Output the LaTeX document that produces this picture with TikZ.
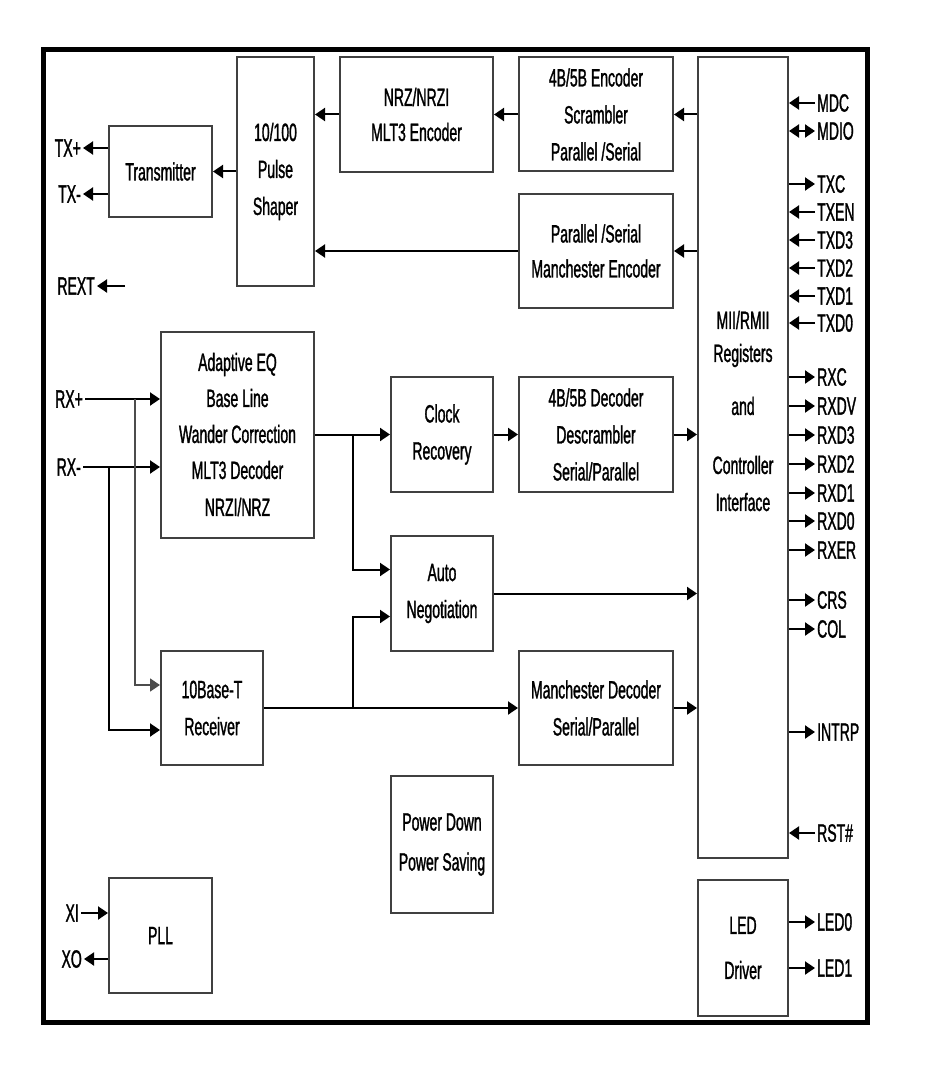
\documentclass[tikz,border=0pt]{standalone}
\usepackage{fontspec}
\setmainfont{Liberation Sans}[FakeStretch=0.56,FakeBold=1.2]
\usetikzlibrary{arrows.meta}

\begin{document}
\begin{tikzpicture}[
  x=1pt,
  y=-1pt,
  font=\fontsize{25}{37}\selectfont,
  box/.style={
    draw=black!75,
    line width=2pt,
    align=center,
    inner sep=0pt
  },
  sig/.style={
    inner sep=2pt
  },
  a/.style={
    -{Triangle[length=10pt,width=13pt]},
    line width=2pt
  },
  aa/.style={
    {Triangle[length=10pt,width=13pt]}-{Triangle[length=10pt,width=13pt]},
    line width=2pt
  },
  tap/.style={
    -{Triangle[length=10pt,width=13pt]},
    line width=1.6pt,
    draw=black!70
  }
  ]

  \useasboundingbox (0,0) rectangle (928,1086);
  \draw [line width=5pt] (43,50) rectangle (867,1022);

  % transmit side
  \node (pulse) [box,minimum width=77pt,minimum height=229pt] at (275.5,171.5) {10/100\\Pulse\\Shaper};
  \node (nrz) [box,minimum width=153pt,minimum height=115pt] at (416.5,114.5) {NRZ/NRZI\\[-2pt]MLT3 Encoder};
  \node (enc) [box,minimum width=154pt,minimum height=114pt] at (596,114.5) {4B/5B Encoder\\Scrambler\\Parallel /Serial};
  \node (menc) [box,minimum width=154pt,minimum height=114pt] at (596,251) {Parallel /Serial\\[-2pt]Manchester Encoder};
  \node (tx) [box,minimum width=103pt,minimum height=91pt] at (160.5,171.5) {Transmitter};

  % receive side
  \node (eq) [box,minimum width=153pt,minimum height=206pt] at (237.5,434.5) {Adaptive EQ\\[-1pt]Base Line\\[-1pt]Wander Correction\\[-1pt]MLT3 Decoder\\NRZI/NRZ};
  \node (clk) [box,minimum width=102pt,minimum height=115pt] at (442,434.5) {Clock\\Recovery};
  \node (dec) [box,minimum width=154pt,minimum height=115pt] at (596,434.5) {4B/5B Decoder\\Descrambler\\Serial/Parallel};
  \node (auto) [box,minimum width=102pt,minimum height=115pt] at (442,593.5) {Auto\\Negotiation};
  \node (rx10) [box,minimum width=102pt,minimum height=114pt] at (212,708) {10Base-T\\Receiver};
  \node (mdec) [box,minimum width=154pt,minimum height=114pt] at (596,708) {Manchester Decoder\\Serial/Parallel};
  \node (pwr) [box,minimum width=102pt,minimum height=137pt] at (442,844.5) {Power Down\\[3pt]Power Saving};
  \node (pll) [box,minimum width=103pt,minimum height=115pt] at (160.5,935.5) {PLL};

  % MII and LED
  \node (mii) [box,minimum width=90pt,minimum height=801pt] at (743,457.5) {};
  \node (mii-text) [align=center] at (743,411) {MII/RMII\\[-4pt]Registers\\[16pt]and\\[22pt]Controller\\Interface};
  \node (led) [box,minimum width=90pt,minimum height=136pt] at (743,948) {LED\\[8pt]Driver};

  % left pins
  \node (txp) [sig,anchor=east] at (83,148) {TX+};
  \node (txm) [sig,anchor=east] at (83,194) {TX-};
  \node (rext) [sig,anchor=east] at (97,286) {REXT};
  \coordinate (rext-in) at (125,286);
  \node (rxp) [sig,anchor=east] at (85,399) {RX+};
  \node (rxm) [sig,anchor=east] at (83,467) {RX-};
  \node (xi) [sig,anchor=east] at (81,913) {XI};
  \node (xo) [sig,anchor=east] at (84,959) {XO};

  % right pins
  \node (mdc) [sig,anchor=west] at (815,103) {MDC};
  \node (mdio) [sig,anchor=west] at (815,131) {MDIO};
  \node (txc) [sig,anchor=west] at (815,184) {TXC};
  \node (txen) [sig,anchor=west] at (815,212) {TXEN};
  \node (txd3) [sig,anchor=west] at (815,240) {TXD3};
  \node (txd2) [sig,anchor=west] at (815,268) {TXD2};
  \node (txd1) [sig,anchor=west] at (815,296) {TXD1};
  \node (txd0) [sig,anchor=west] at (815,323) {TXD0};
  \node (rxc) [sig,anchor=west] at (815,377) {RXC};
  \node (rxdv) [sig,anchor=west] at (815,406) {RXDV};
  \node (rxd3) [sig,anchor=west] at (815,435) {RXD3};
  \node (rxd2) [sig,anchor=west] at (815,464) {RXD2};
  \node (rxd1) [sig,anchor=west] at (815,493) {RXD1};
  \node (rxd0) [sig,anchor=west] at (815,521) {RXD0};
  \node (rxer) [sig,anchor=west] at (815,550) {RXER};
  \node (crs) [sig,anchor=west] at (815,600) {CRS};
  \node (col) [sig,anchor=west] at (815,629) {COL};
  \node (intrp) [sig,anchor=west] at (815,732) {INTRP};
  \node (rst) [sig,anchor=west] at (815,833) {RST\#};
  \node (led0) [sig,anchor=west] at (815,922) {LED0};
  \node (led1) [sig,anchor=west] at (815,968) {LED1};

  % transmit connectors
  \draw [a] (mii.west |- enc.east) -- (enc.east);
  \draw [a] (mii.west |- menc.east) -- (menc.east);
  \draw [a] (enc.west) -- (nrz.east |- enc.west);
  \draw [a] (nrz.west) -- (pulse.east |- nrz.west);
  \draw [a] (menc.west) -- (pulse.east |- menc.west);
  \draw [a] (pulse.west |- tx.east) -- (tx.east);
  \draw [a] (tx.west |- txp.east) -- (txp.east);
  \draw [a] (tx.west |- txm.east) -- (txm.east);
  \draw [a] (rext-in) -- (rext.east);

  % receive connectors
  \coordinate (rxp-tap) at (135,399);
  \coordinate (rxm-tap) at (109,467);
  \coordinate (eq-tap) at (353,434.5);
  \coordinate (rx10-tap) at (353,708);
  \draw [a] (rxp.east) -- (eq.west |- rxp.east);
  \draw [a] (rxm.east) -- (eq.west |- rxm.east);
  \draw [tap] (rxp-tap) |- ([yshift=23pt]rx10.west);
  \draw [a] (rxm-tap) |- ([yshift=-22pt]rx10.west);
  \draw [a] (eq.east) -- (clk.west |- eq.east);
  \draw [a] (eq-tap) |- ([yshift=24pt]auto.west);
  \draw [a] (rx10.east) -- (mdec.west |- rx10.east);
  \draw [a] (rx10-tap) |- ([yshift=-23pt]auto.west);
  \draw [a] (clk.east) -- (dec.west);
  \draw [a] (dec.east) -- (mii.west |- dec.east);
  \draw [a] (auto.east) -- (mii.west |- auto.east);
  \draw [a] (mdec.east) -- (mii.west |- mdec.east);
  \draw [a] (xi.east) -- (pll.west |- xi.east);
  \draw [a] (pll.west |- xo.east) -- (xo.east);

  % pin connectors
  \draw [a] (mdc.west) -- (mii.east |- mdc.west);
  \draw [aa] (mdio.west) -- (mii.east |- mdio.west);
  \draw [a] (mii.east |- txc.west) -- (txc.west);
  \draw [a] (txen.west) -- (mii.east |- txen.west);
  \draw [a] (txd3.west) -- (mii.east |- txd3.west);
  \draw [a] (txd2.west) -- (mii.east |- txd2.west);
  \draw [a] (txd1.west) -- (mii.east |- txd1.west);
  \draw [a] (txd0.west) -- (mii.east |- txd0.west);
  \draw [a] (mii.east |- rxc.west) -- (rxc.west);
  \draw [a] (mii.east |- rxdv.west) -- (rxdv.west);
  \draw [a] (mii.east |- rxd3.west) -- (rxd3.west);
  \draw [a] (mii.east |- rxd2.west) -- (rxd2.west);
  \draw [a] (mii.east |- rxd1.west) -- (rxd1.west);
  \draw [a] (mii.east |- rxd0.west) -- (rxd0.west);
  \draw [a] (mii.east |- rxer.west) -- (rxer.west);
  \draw [a] (mii.east |- crs.west) -- (crs.west);
  \draw [a] (mii.east |- col.west) -- (col.west);
  \draw [a] (mii.east |- intrp.west) -- (intrp.west);
  \draw [a] (rst.west) -- (mii.east |- rst.west);
  \draw [a] (led.east |- led0.west) -- (led0.west);
  \draw [a] (led.east |- led1.west) -- (led1.west);
\end{tikzpicture}
\end{document}
